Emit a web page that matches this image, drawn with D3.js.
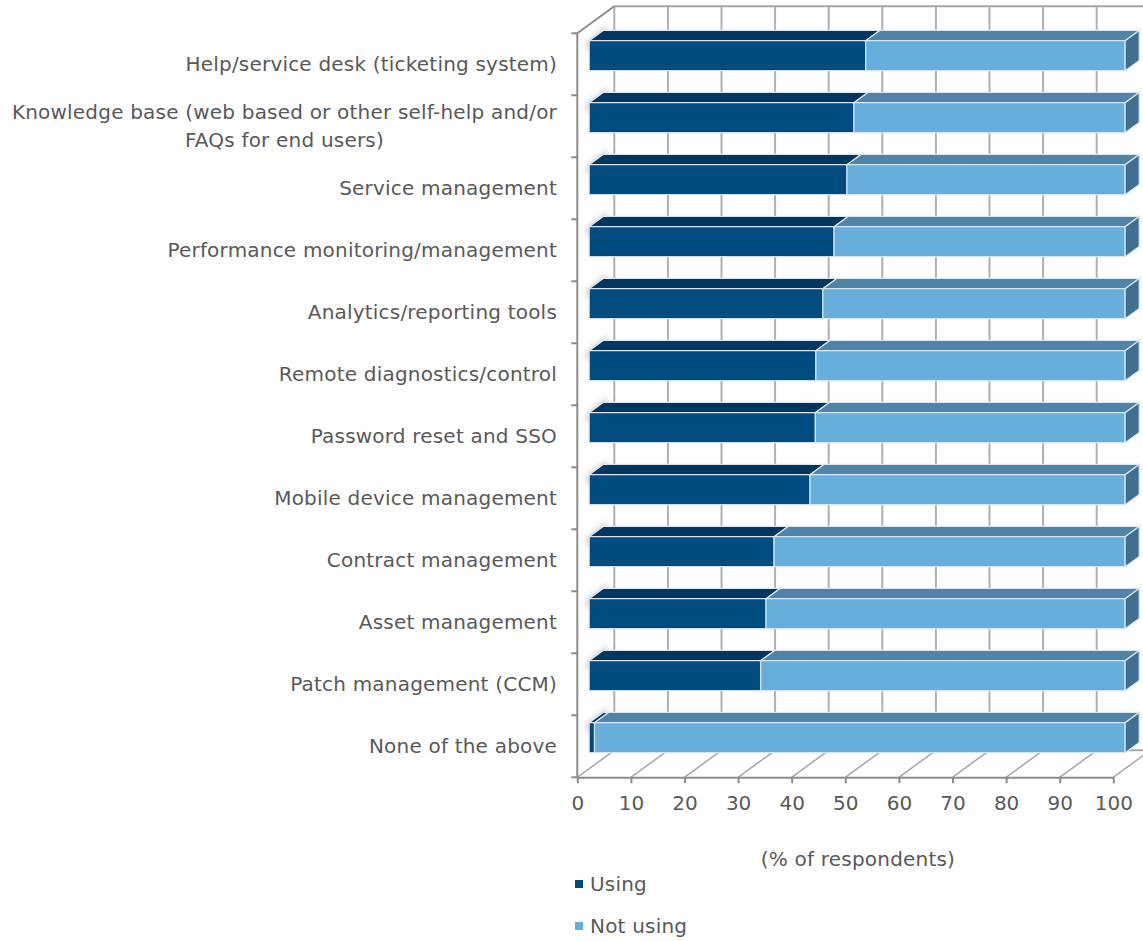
<!DOCTYPE html>
<html><head><meta charset="utf-8">
<script src="https://cdn.jsdelivr.net/npm/d3@7"></script>
<style>body{margin:0;background:#fff}svg{display:block}</style>
</head><body>
<svg id="c" width="1143" height="941"></svg>
<script>
const categories = [
  ["Help/service desk (ticketing system)"],
  ["Knowledge base (web based or other self-help and/or", "FAQs for end users)"],
  ["Service management"],
  ["Performance monitoring/management"],
  ["Analytics/reporting tools"],
  ["Remote diagnostics/control"],
  ["Password reset and SSO"],
  ["Mobile device management"],
  ["Contract management"],
  ["Asset management"],
  ["Patch management (CCM)"],
  ["None of the above"]
];
const using = [51.6, 49.4, 48.1, 45.7, 43.6, 42.3, 42.2, 41.2, 34.5, 33.0, 32.0, 1.0];
const notUsing = using.map(v => +(100 - v).toFixed(1));
const xTicks = [0,10,20,30,40,50,60,70,80,90,100];
const legendLabels = ["Using", "Not using"];

const svg = d3.select("#c");
const FONT = "DejaVu Sans, sans-serif";
const FS = 20, LS = "0.2px";
const TXT = "#595959";
const AX = "#8c8c8c";
const x = d3.scaleLinear().domain([0,100]).range([577.3, 1113.3]);
const ids = categories.map((c,i)=>i);
const y = d3.scaleBand().domain(ids).range([33.3, 777.3]).paddingInner(0.516).paddingOuter(0.258);
const DX = 37, DY = -27;          // full depth
const F0 = 0.32, F1 = 0.70;       // bar depth fraction
const yTop = y.range()[0], yBot = y.range()[1];

const defs = svg.append("defs");
const blur = defs.append("filter").attr("id","bl").attr("x","-50%").attr("y","-50%").attr("width","200%").attr("height","200%");
blur.append("feGaussianBlur").attr("stdDeviation", 3);

// back wall gridlines
svg.append("g").selectAll("line").data(xTicks).join("line")
  .attr("x1", d=>x(d)+DX).attr("x2", d=>x(d)+DX)
  .attr("y1", yTop+DY).attr("y2", yBot+DY)
  .attr("stroke", "#b0b0b0").attr("stroke-width", 2);
svg.append("line").attr("x1", x(0)+DX).attr("x2", x(100)+DX).attr("y1", yTop+DY).attr("y2", yTop+DY)
  .attr("stroke","#a6a6a6").attr("stroke-width",2);
svg.append("line").attr("x1", x(0)+DX).attr("x2", x(100)+DX).attr("y1", yBot+DY).attr("y2", yBot+DY)
  .attr("stroke","#a6a6a6").attr("stroke-width",2);
svg.append("g").selectAll("line").data(xTicks).join("line")
  .attr("x1", d=>x(d)).attr("x2", d=>x(d)+DX)
  .attr("y1", yBot).attr("y2", yBot+DY)
  .attr("stroke", "#a6a6a6").attr("stroke-width", 1.5);
svg.append("line").attr("x1", x(0)).attr("y1", yTop).attr("x2", x(0)+DX).attr("y2", yTop+DY)
  .attr("stroke", AX).attr("stroke-width", 2);

// soft shadows at left of each bar
svg.append("g").selectAll("polygon").data(ids).join("polygon")
  .attr("points", i => {
    const t = y(i) + F0*DY;
    const x0 = x(0)+F0*DX;
    return [[x0-2, t+2],[x0+F1*DX-F0*DX+4, t+(F1-F0)*DY-4],[x0+F1*DX-F0*DX+4, t+(F1-F0)*DY+6],[x0-2, t+10]].map(p=>p.join(",")).join(" ");
  })
  .attr("fill", "#8a8a8a").attr("opacity", 0.6).attr("filter","url(#bl)");

// bars
const segs = [];
ids.forEach(i => {
  segs.push({i, a:0, b:using[i], s:0});
  segs.push({i, a:using[i], b:using[i]+notUsing[i], s:1});
});
const front = ["#004b7f", "#66aedc"];
const topc = ["#00365f", "#4f84a8"];
const sidec = "#3f6e90";
const EDGE = "#dbe7f1";
const ox = F0*DX, oy = F0*DY, dx = (F1-F0)*DX, dy = (F1-F0)*DY;
const g = svg.append("g");
segs.forEach(s => {
  const x0 = x(s.a)+ox, x1 = x(s.b)+ox, t = y(s.i)+oy, h = y.bandwidth();
  g.append("polygon")
    .attr("points", [[x0,t],[x0+dx,t+dy],[x1+dx,t+dy],[x1,t]].map(p=>p.join(",")).join(" "))
    .attr("fill", topc[s.s]).attr("stroke", EDGE).attr("stroke-width", 1.2);
  g.append("rect").attr("x", x0).attr("y", t).attr("width", x1-x0).attr("height", h)
    .attr("fill", front[s.s]).attr("stroke", EDGE).attr("stroke-width", 1.2);
  if (s.s === 1) {
    g.append("polygon")
      .attr("points", [[x1,t],[x1+dx,t+dy],[x1+dx,t+dy+h],[x1,t+h]].map(p=>p.join(",")).join(" "))
      .attr("fill", sidec).attr("stroke", EDGE).attr("stroke-width", 1.2);
  }
});

// left axis
svg.append("line").attr("x1", x(0)).attr("x2", x(0)).attr("y1", yTop).attr("y2", yBot)
  .attr("stroke", AX).attr("stroke-width", 2);
svg.append("g").selectAll("line").data(d3.range(categories.length+1)).join("line")
  .attr("x1", x(0)-6).attr("x2", x(0)).attr("y1", k=>yTop+k*y.step()).attr("y2", k=>yTop+k*y.step())
  .attr("stroke", AX).attr("stroke-width", 2);
// bottom axis
const xa = svg.append("g").attr("transform", `translate(0,${yBot})`)
  .call(d3.axisBottom(x).tickValues(xTicks).tickSize(6).tickPadding(13).tickSizeOuter(0));
xa.select(".domain").attr("stroke", AX).attr("stroke-width", 2);
xa.selectAll(".tick line").attr("stroke", AX).attr("stroke-width", 2);
xa.selectAll(".tick text").attr("fill", TXT).attr("font-family", FONT).attr("font-size", FS);

// category labels (multi-line labels: block right-aligned, lines centred)
const lg = svg.append("g").attr("font-family", FONT).attr("font-size", FS).attr("letter-spacing", LS)
  .attr("fill", TXT);
const LX = 557;
categories.forEach((lines, i) => {
  const cy = y(i) + y.bandwidth()/2;
  const lh = 28;
  const texts = lines.map((ln, k) => lg.append("text")
      .attr("y", cy + (k - (lines.length-1)/2)*lh)
      .attr("dy", "0.35em").text(ln));
  if (lines.length === 1) {
    texts[0].attr("x", LX).attr("text-anchor", "end");
  } else {
    const maxW = d3.max(texts, t => t.node().getComputedTextLength());
    texts.forEach(t => t.attr("x", LX - maxW/2).attr("text-anchor", "middle"));
  }
});

// axis title
svg.append("text").attr("x", 858).attr("y", 859).attr("dy","0.35em").attr("text-anchor","middle")
  .attr("font-family", FONT).attr("font-size", FS).attr("letter-spacing", LS).attr("fill", TXT).text("(% of respondents)");

// legend
const leg = svg.append("g");
legendLabels.forEach((l, k) => {
  const ly = 884 + k*42;
  leg.append("rect").attr("x", 575).attr("y", ly-4).attr("width", 8).attr("height", 8).attr("fill", front[k]);
  leg.append("text").attr("x", 590).attr("y", ly).attr("dy","0.35em")
    .attr("font-family", FONT).attr("font-size", FS).attr("letter-spacing", LS).attr("fill", TXT).text(l);
});
</script>
</body></html>
